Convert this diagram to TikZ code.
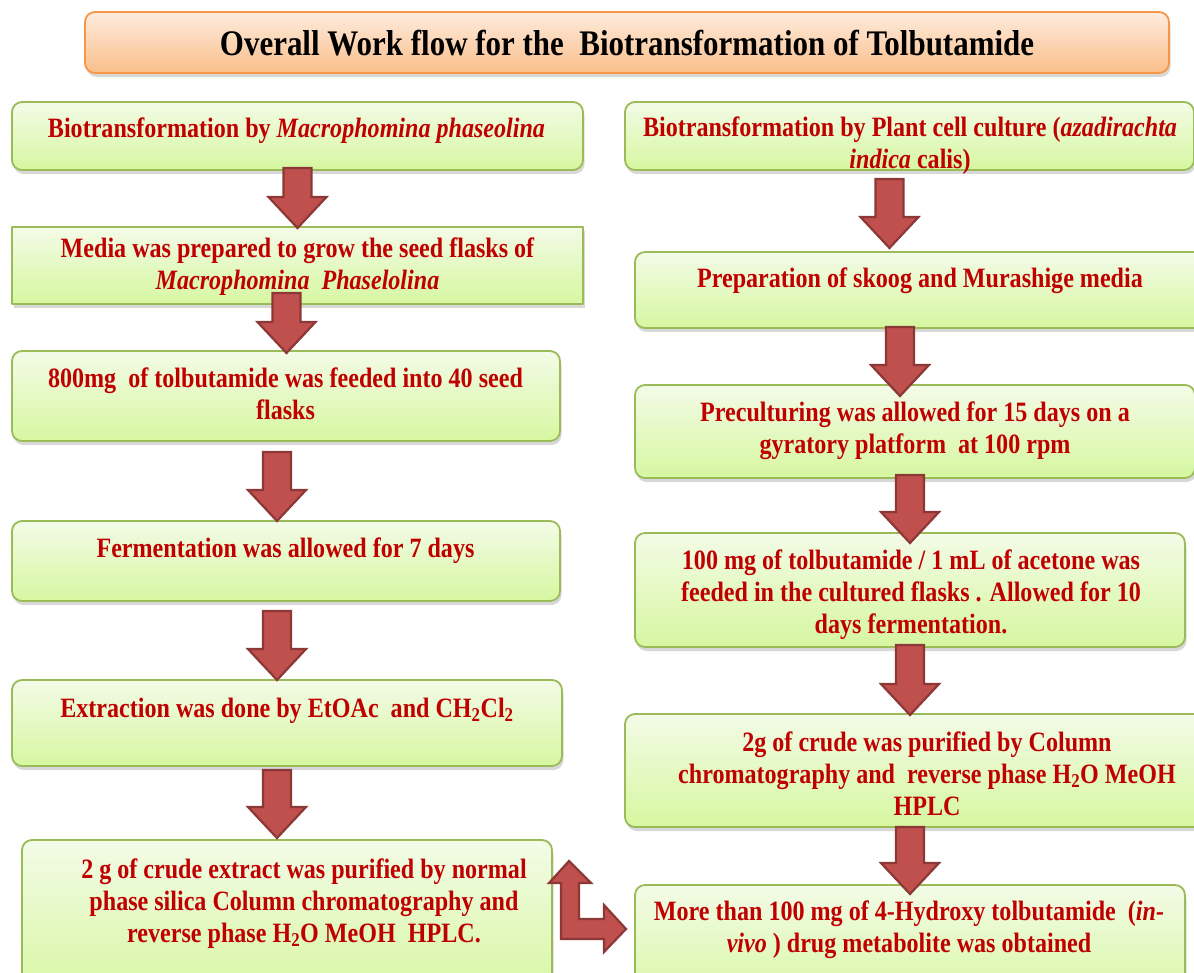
\documentclass[tikz,border=0pt]{standalone}
\usepackage{fontspec}
\setmainfont{Liberation Serif}[FakeStretch=0.86]
\usepackage{tikz}
\usetikzlibrary{calc,shadows}

\definecolor{boxline}{RGB}{155,187,89}
\definecolor{boxtop}{RGB}{243,251,231}
\definecolor{boxbot}{RGB}{214,247,160}
\definecolor{titleline}{RGB}{247,150,70}
\definecolor{titletop}{RGB}{253,236,222}
\definecolor{titlebot}{RGB}{250,190,138}
\definecolor{stepred}{RGB}{192,0,0}
\definecolor{arrowred}{RGB}{192,80,77}
\definecolor{arrowline}{RGB}{140,56,54}

\newcommand\flowarrow[2]{%
  \path[blockarrow] let \p1=#1, \p2=#2 in
    (\x1-14pt,\y1) -- (\x1+14pt,\y1) -- (\x1+14pt,\y2+31pt) -- (\x1+29pt,\y2+31pt)
    -- (\x1,\y2) -- (\x1-29pt,\y2+31pt) -- (\x1-14pt,\y2+31pt) -- cycle;}

\begin{document}
\begin{tikzpicture}[x=1pt,y=-1pt,line join=round,
  stepbox/.style={draw=boxline,line width=1.8pt,top color=boxtop,bottom color=boxbot,
    rounded corners=10pt,inner sep=0pt,outer sep=0pt,
    drop shadow={shadow xshift=1.5pt,shadow yshift=-4pt,opacity=0.3}},
  titlebox/.style={stepbox,draw=titleline,top color=titletop,bottom color=titlebot},
  steptext/.style={text=stepred,font=\fontsize{28}{32}\selectfont\bfseries,
    align=center,anchor=base,inner sep=0pt},
  titletext/.style={font=\fontsize{36}{40}\selectfont\bfseries,anchor=base,inner sep=0pt},
  blockarrow/.style={fill=arrowred,draw=arrowline,line width=2.2pt,line join=miter}]
  \clip (0,0) rectangle (1194,973);
  \fill[white] (0,0) rectangle (1194,973);

  \node[titlebox,minimum width=1084pt,minimum height=61pt] (title) at (627,42.5) {};

  \node[stepbox,minimum width=571pt,minimum height=68pt] (L1) at (297.5,136) {};
  \node[stepbox,sharp corners,minimum width=571pt,minimum height=77pt] (L2) at (297.5,265.5) {};
  \node[stepbox,minimum width=548pt,minimum height=90pt] (L3) at (286,396) {};
  \node[stepbox,minimum width=548pt,minimum height=80pt] (L4) at (286,561) {};
  \node[stepbox,minimum width=550pt,minimum height=86pt] (L5) at (287,723) {};
  \node[stepbox,minimum width=530pt,minimum height=160pt] (L6) at (287,920) {};

  \node[stepbox,minimum width=569pt,minimum height=68pt] (R1) at (909.5,136) {};
  \node[stepbox,minimum width=570pt,minimum height=76pt] (R2) at (920,290) {};
  \node[stepbox,minimum width=560pt,minimum height=93pt] (R3) at (915,431.5) {};
  \node[stepbox,minimum width=550pt,minimum height=114pt] (R4) at (910,590) {};
  \node[stepbox,minimum width=605pt,minimum height=113pt] (R5) at (927.5,770.5) {};
  \node[stepbox,minimum width=550pt,minimum height=125pt] (R6) at (910,947.5) {};

  \node[titletext] (titlet) at (627,56) {Overall Work flow for the\ \ Biotransformation of Tolbutamide};

  \node[steptext] (L1t) at (296.5,138) {Biotransformation by \textit{Macrophomina phaseolina}};
  \node[steptext] (L2t) at (297.5,290) {Media was prepared to grow the seed flasks of\\\textit{Macrophomina\ \ Phaselolina}};
  \node[steptext] (L3t) at (285.5,419) {800mg\ \ of tolbutamide was feeded into 40 seed\\flasks};
  \node[steptext] (L4t) at (285.5,557) {Fermentation was allowed for 7 days};
  \node[steptext] (L5t) at (287,717) {Extraction was done by EtOAc\ \ and CH\textsubscript{2}Cl\textsubscript{2}};
  \node[steptext] (L6t) at (304,942) {2 g of crude extract was purified by normal\\phase silica Column chromatography and\\reverse phase H\textsubscript{2}O MeOH\ \ HPLC.};

  \node[steptext] (R1t) at (910,169) {Biotransformation by Plant cell culture (\textit{azadirachta}\\\textit{indica} calis)};
  \node[steptext] (R2t) at (920,288) {Preparation of skoog and Murashige media};
  \node[steptext] (R3t) at (915,453) {Preculturing was allowed for 15 days on a\\gyratory platform\ \ at 100 rpm};
  \node[steptext] (R4t) at (911,633) {100 mg of tolbutamide / 1 mL of acetone was\\feeded in the cultured flasks . Allowed for 10\\days fermentation.};
  \node[steptext] (R5t) at (927,815) {2g of crude was purified by Column\\chromatography and\ \ reverse phase H\textsubscript{2}O MeOH\\HPLC};
  \node[steptext] (R6t) at (909,952) {More than 100 mg of 4-Hydroxy tolbutamide\ \ (\textit{in-}\\\textit{vivo} ) drug metabolite was obtained};

  \flowarrow{($(L1.south)+(0,-2)$)}{($(L2.north)+(0,1)$)}
  \flowarrow{($(L2.south)+(-11,-11)$)}{($(L3.north)+(0,2)$)}
  \flowarrow{($(L3.south)+(-9,11)$)}{(L4.north)}
  \flowarrow{($(L4.south)+(-9,10)$)}{(L5.north)}
  \flowarrow{($(L5.south)+(-10,4)$)}{($(L6.north)+(0,-2)$)}

  \flowarrow{($(R1.south)+(-20,9)$)}{($(R2.north)+(0,-4)$)}
  \flowarrow{($(R2.south)+(-20,-1)$)}{($(R3.north)+(0,11)$)}
  \flowarrow{($(R3.south)+(-5,-3)$)}{($(R4.north)+(0,10)$)}
  \flowarrow{($(R4.south)+(0,-2)$)}{($(R5.north)+(0,1)$)}
  \flowarrow{($(R5.south)+(-17.5,0)$)}{($(R6.north)+(0,9)$)}

  \path[blockarrow,shift={(L6.north east)}]
    (17,21) -- (39,43) -- (27,43) -- (27,79) -- (52,79) -- (52,65) -- (74,89)
    -- (52,112) -- (52,99) -- (9,99) -- (9,43) -- (-3,43) -- cycle;
\end{tikzpicture}
\end{document}
